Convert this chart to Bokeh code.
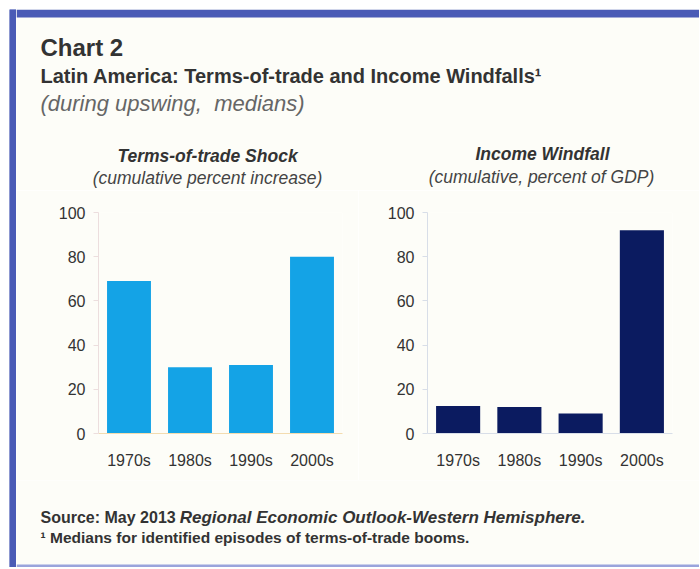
from bokeh.plotting import figure
from bokeh.layouts import row, column
from bokeh.models import Range1d, FactorRange, FixedTicker
from bokeh.core.properties import value
from bokeh.embed import file_html
from bokeh.resources import INLINE

# ---- data ----
decades = ["1970s", "1980s", "1990s", "2000s"]
tot_shock = [69, 30, 31, 80]          # cumulative percent increase
income_windfall = [12.5, 12, 9, 92]    # cumulative, percent of GDP
y_ticks = [0, 20, 40, 60, 80, 100]

chart_label = "Chart 2"
main_title = "Latin America: Terms-of-trade and Income Windfalls\u00b9"
main_sub = "(during upswing,\u00a0 medians)"
left_title = "Terms-of-trade Shock"
left_sub = "(cumulative percent increase)"
right_title = "Income Windfall"
right_sub = "(cumulative, percent of GDP)"
source_a = "Source: May 2013"
source_b = "Regional Economic Outlook-Western Hemisphere."
note = "\u00b9 Medians for identified episodes of terms-of-trade booms."

BG = "#fdfdf8"
BLUE = "#4a5bb6"
TXT = "#333333"
FONT = "Liberation Sans"


def blank(w, h):
    f = figure(width=w, height=h, toolbar_location=None, output_backend="svg",
               x_range=Range1d(0, w), y_range=Range1d(h, 0), min_border=0)
    f.axis.visible = False
    f.grid.visible = False
    f.outline_line_color = None
    f.background_fill_color = BG
    f.border_fill_color = BG
    return f


H_ALL = 558
W = 683

# left blue strip
strip = blank(7, H_ALL)
strip.background_fill_color = BLUE
strip.border_fill_color = BLUE
strip.quad(left=[0], right=[7], top=[0], bottom=[H_ALL], fill_color=BLUE, line_color=None)

# header
hdr = blank(W, 181)
hdr.quad(left=[0], right=[W], top=[0], bottom=[8], fill_color=BLUE, line_color=None)
hdr.text(x=[24], y=[38], text=[chart_label], text_font=value(FONT), text_font_size="24px",
         text_font_style="bold", text_color=TXT, text_baseline="middle")
hdr.text(x=[24], y=[66], text=[main_title], text_font=value(FONT),
         text_font_size="20px", text_font_style="bold", text_color=TXT,
         text_baseline="middle")
hdr.text(x=[24], y=[94], text=[main_sub], text_font=value(FONT), text_font_size="22px",
         text_font_style="italic", text_color="#666666", text_baseline="middle")
hdr.text(x=[191, 526], y=[146, 144], text=[left_title, right_title], text_font=value(FONT),
         text_font_size="17.5px", text_font_style="bold italic", text_color=TXT,
         text_baseline="middle", text_align="center")
hdr.text(x=[191, 525], y=[168, 167], text=[left_sub, right_sub], text_font=value(FONT),
         text_font_size="17.5px", text_font_style="italic", text_color="#444444",
         text_baseline="middle", text_align="center")


def bar_chart(w, vals, color, mbl, mbr, mbt, mbb, axis_col_x, axis_col_y):
    f = figure(width=w, height=290, toolbar_location=None, output_backend="svg",
               x_range=FactorRange(*decades, range_padding=0), y_range=Range1d(0, 100),
               min_border_left=mbl, min_border_right=mbr, min_border_top=mbt,
               min_border_bottom=mbb)
    f.vbar(x=decades, top=vals, width=0.72, fill_color=color, line_color=None)
    f.grid.visible = False
    f.outline_line_color = None
    f.background_fill_color = BG
    f.border_fill_color = BG
    f.yaxis.ticker = FixedTicker(ticks=y_ticks)
    f.yaxis.minor_tick_line_color = None
    f.yaxis.major_tick_out = 5
    f.yaxis.major_tick_in = 0
    f.yaxis.axis_line_color = axis_col_y
    f.yaxis.major_tick_line_color = axis_col_y
    f.yaxis.major_label_standoff = 8
    f.xaxis.axis_line_color = axis_col_x
    f.xaxis.major_tick_line_color = None
    f.xaxis.major_label_standoff = 12
    for ax in (f.xaxis, f.yaxis):
        ax.major_label_text_font = FONT
        ax.major_label_text_font_size = "16px"
        ax.major_label_text_color = TXT
    return f


left = bar_chart(342, tot_shock, "#14a3e6", 82, 16, 19, 44, "#f3dcb0", "#ecdede")
right = bar_chart(341, income_windfall, "#0b1b60", 69, 27, 22, 47, "#d8dee8", "#d8dee8")

# footer
ftr = blank(W, 87)
ftr.text(x=[24], y=[37], text=[source_a], text_font=value(FONT), text_font_size="16px",
         text_font_style="bold", text_color=TXT, text_baseline="middle")
ftr.text(x=[24 + 8.448 * 16 + 4], y=[37], text=[source_b], text_font=value(FONT),
         text_font_size="17px", text_font_style="bold italic", text_color=TXT,
         text_baseline="middle")
ftr.text(x=[24], y=[57], text=[note], text_font=value(FONT), text_font_size="15.5px",
         text_font_style="bold", text_color=TXT, text_baseline="middle")
ftr.quad(left=[0], right=[W], top=[84], bottom=[87], fill_color="#9aa4dc", line_color=None)

layout = row(strip, column(hdr, row(left, right), ftr), margin=(9, 0, 0, 9))
open("out.html", "w").write(file_html(layout, INLINE))
